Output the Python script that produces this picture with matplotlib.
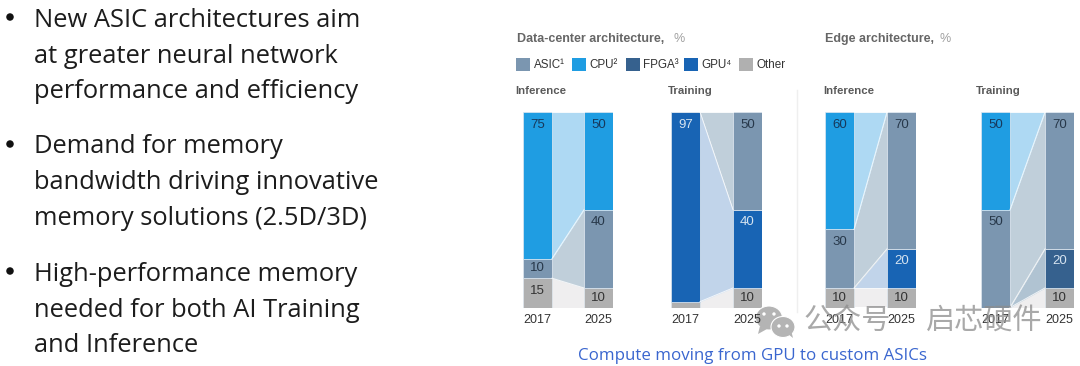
import numpy as np
import matplotlib
matplotlib.use('Agg')
import matplotlib.pyplot as plt
from matplotlib.patches import Rectangle, Ellipse, Polygon

W, H = 1080, 366

# stack order, bottom to top
series = ['Other', 'FPGA', 'GPU', 'ASIC', 'CPU']
years = ['2017', '2025']
panel_names = ['Inference', 'Training', 'Inference', 'Training']

other_vals = [[15, 10], [3, 10], [10, 10], [0, 10]]
fpga_vals = [[0, 0], [0, 0], [0, 0], [0, 20]]
gpu_vals = [[0, 0], [97, 40], [0, 20], [0, 0]]
asic_vals = [[10, 40], [0, 50], [30, 70], [50, 70]]
cpu_vals = [[75, 50], [0, 0], [60, 0], [50, 0]]

legend_names = ['ASIC¹', 'CPU²', 'FPGA³', 'GPU⁴', 'Other']

bullets = [
    ['New ASIC architectures aim', 'at greater neural network', 'performance and efficiency'],
    ['Demand for memory', 'bandwidth driving innovative', 'memory solutions (2.5D/3D)'],
    ['High-performance memory', 'needed for both AI Training', 'and Inference'],
]
bullet_y = [[27, 63, 98], [153, 189, 225], [281, 317, 352]]
bullet_dot_y = [17, 144, 271]

colors = {'ASIC': '#7b96b0', 'CPU': '#1f9de2', 'FPGA': '#36618e', 'GPU': '#1864b4', 'Other': '#b0b0b0'}
bands = {'ASIC': '#c0cfda', 'CPU': '#aed9f3', 'FPGA': '#b0c3d2', 'GPU': '#c1d4ea', 'Other': '#efeeef'}
label_colors = {'ASIC': '#27384a', 'CPU': '#17395c', 'FPGA': '#d5e3f0', 'GPU': '#d5e3f0', 'Other': '#333333'}

# pixel layout of the four panels: left edge of first bar, right edge of second bar
panel_x = [(523, 613), (671, 762), (825, 916), (981, 1074)]
bar_w_px = 29
plot_top, plot_bottom = 112, 307.5

sans = ['Liberation Sans', 'DejaVu Sans']
fig = plt.figure(figsize=(W / 100, H / 100), dpi=100, facecolor='white')

all_vals = [other_vals, fpga_vals, gpu_vals, asic_vals, cpu_vals]
for p, (x0, x1) in enumerate(panel_x):
    ax = fig.add_axes([x0 / W, 1 - plot_bottom / H, (x1 - x0) / W, (plot_bottom - plot_top) / H])
    w = bar_w_px / (x1 - x0 - bar_w_px)
    bottom = np.zeros(2)
    for name, vals in zip(series, all_vals):
        v = np.array(vals[p], dtype=float)
        if v.sum() == 0:
            continue
        xs = [w / 2, 1 - w / 2]
        ax.fill_between(xs, bottom, bottom + v, color=bands[name], lw=0)
        ax.plot(xs, bottom + v, color='white', lw=0.7, alpha=0.8)
        ax.bar([0, 1], v, width=w, bottom=bottom, color=colors[name],
               edgecolor='#dfe8f0', linewidth=0.5)
        for i in range(2):
            if v[i] >= 10:
                ax.text(i, bottom[i] + v[i] - min(v[i] / 2, 6.4), f'{v[i]:.0f}',
                        ha='center', va='center', fontsize=9.5,
                        color=label_colors[name], family=sans)
        bottom = bottom + v
    ax.set_xlim(-w / 2, 1 + w / 2)
    ax.set_ylim(0, 100)
    ax.axis('off')

# overlay in pixel coordinates for the slide text and the annotations
ov = fig.add_axes([0, 0, 1, 1], facecolor='none')
ov.set_xlim(0, W)
ov.set_ylim(H, 0)
ov.axis('off')

for lines, ys, dot_y in zip(bullets, bullet_y, bullet_dot_y):
    ov.add_patch(Ellipse((10, dot_y), 7.5, 7.5, color='#111111', lw=0))
    for line, y in zip(lines, ys):
        ov.text(34.5, y, line, fontsize=18.4, ha='left', va='baseline', color='#1c1c1c', family='Open Sans')

ov.text(517, 39, 'Data-center architecture,', fontsize=9, color='#404040', va='center',
        family=sans, fontweight='bold', alpha=0.8)
ov.text(673, 39, '%', fontsize=9, color='#a0a0a0', va='center', family=sans)
ov.text(825, 39, 'Edge architecture,', fontsize=9, color='#404040', va='center',
        family=sans, fontweight='bold', alpha=0.8)
ov.text(940, 39, '%', fontsize=9, color='#a0a0a0', va='center', family=sans)

legend_patch_x = [516, 572, 626, 684, 739]
legend_keys = ['ASIC', 'CPU', 'FPGA', 'GPU', 'Other']
for name, key, x in zip(legend_names, legend_keys, legend_patch_x):
    ov.add_patch(Rectangle((x, 58), 14, 13, color=colors[key], lw=0))
    ov.text(x + 17.5, 65, name, fontsize=8.4, color='#333333', va='center', family=sans)

title_x = [515, 668, 823, 976]
for name, x in zip(panel_names, title_x):
    ov.text(x, 91, name, fontsize=8.2, color='#303030', va='center', family=sans, fontweight='bold', alpha=0.8)

for (x0, x1) in panel_x:
    for yr, cx in zip(years, [x0 + bar_w_px / 2, x1 - bar_w_px / 2]):
        ov.text(cx, 320, yr, fontsize=9, color='#333333', ha='center', va='center', family=sans)

ov.plot([797, 797], [90, 312], color='#efefef', lw=1)

ov.text(752, 360, 'Compute moving from GPU to custom ASICs', fontsize=12.2, color='#3a66cf',
        ha='center', va='baseline', family='Open Sans')

# watermark
for cx, cy, rx, ry in [(769, 318, 13.5, 12), (783, 327, 12, 10.5)]:
    ov.add_patch(Ellipse((cx, cy), rx * 2, ry * 2, color='#b4b4b4', ec='white', lw=0.8))
ov.add_patch(Polygon([[760, 326], [758, 334], [767, 329]], color='#b4b4b4', lw=0))
ov.add_patch(Polygon([[788, 334], [793, 338], [791, 330]], color='#b4b4b4', lw=0))
for cx, cy in [(764, 314), (774, 314), (779, 326), (787, 326)]:
    ov.add_patch(Ellipse((cx, cy), 3.4, 3.4, color='white', lw=0))
cjk = ['Noto Sans CJK SC', 'DejaVu Sans']
ov.text(847, 322, '公众号', fontsize=21, color='#8c8c8c', alpha=0.75, ha='center', va='center', family=cjk)
ov.text(984, 322, '启芯硬件', fontsize=21, color='#8c8c8c', alpha=0.75, ha='center', va='center', family=cjk)

fig.savefig('out.png', dpi=100)
